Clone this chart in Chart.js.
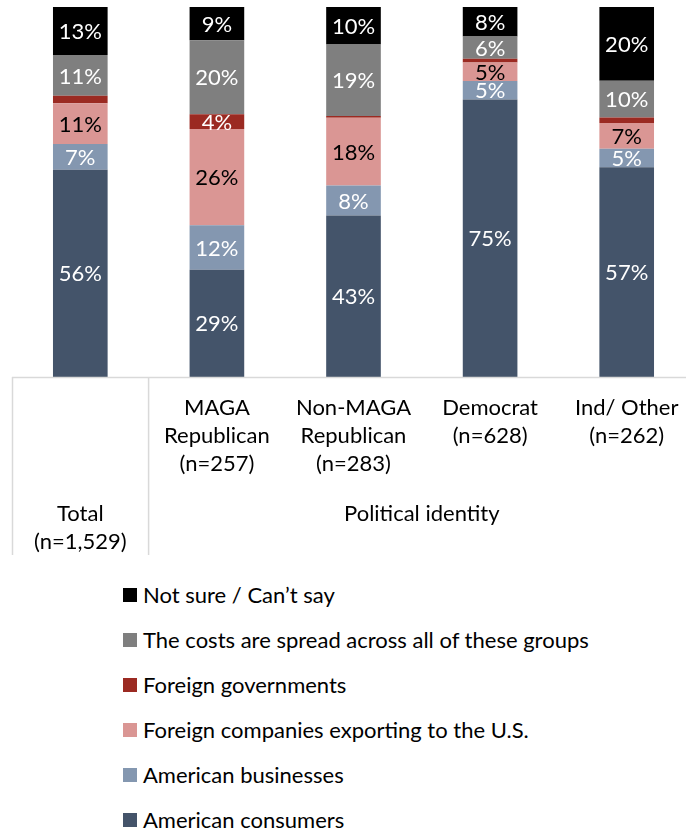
<!DOCTYPE html>
<html>
<head>
<meta charset="utf-8">
<script src="https://cdn.jsdelivr.net/npm/chart.js@4.4.1/dist/chart.umd.min.js"></script>
<style>
  html, body { margin: 0; padding: 0; background: #fff; overflow: hidden; }
  body { width: 686px; height: 828px; position: relative; font-family: Lato, "Open Sans", sans-serif; }
  #wrap { position: absolute; left: 0; top: 0; width: 700px; height: 560px; }
  #legend { position: absolute; left: 123px; top: 572px; }
  .item { height: 45px; display: flex; align-items: center; font-size: 22px; color: #000; }
  .box { width: 14px; height: 14px; margin-right: 6px; flex: none; }
</style>
</head>
<body>
<div id="wrap"><canvas id="chart" width="700" height="560"></canvas></div>
<div id="legend"></div>

<script>
// kategori (baris teks per label)
const categories = [
  ['Total', '(n=1,529)'],
  ['MAGA', 'Republican', '(n=257)'],
  ['Non-MAGA', 'Republican', '(n=283)'],
  ['Democrat', '(n=628)'],
  ['Ind/ Other', '(n=262)']
];
const groupLabel = 'Political identity';

// nilai persen per seri (urutan kolom sama dengan categories)
const consumers   = [56, 29, 43, 75, 57];
const businesses  = [7, 12, 8, 5, 5];
const foreignCos  = [11, 26, 18, 5, 7];
const foreignGovs = [2, 4, 0.5, 1, 1.5];
const spread      = [11, 20, 19, 6, 10];
const notSure     = [13, 9, 10, 8, 20];

const seriesNames = [
  'American consumers',
  'American businesses',
  'Foreign companies exporting to the U.S.',
  'Foreign governments',
  'The costs are spread across all of these groups',
  'Not sure / Can\u2019t say'
];
const seriesColors = ['#44546A', '#8497B0', '#DA9694', '#9B2A22', '#7F7F7F', '#000000'];
const labelColors  = ['#fff', '#fff', '#000', '#fff', '#fff', '#fff'];

const series = [consumers, businesses, foreignCos, foreignGovs, spread, notSure];

// 100% stacked: tiap kolom dinormalisasi ke 100
const totals = categories.map((c, i) => series.reduce((s, arr) => s + arr[i], 0));

const datasets = series.map((arr, k) => ({
  label: seriesNames[k],
  data: arr.map((v, i) => v / totals[i] * 100),
  raw: arr,
  backgroundColor: seriesColors[k],
  borderWidth: 0,
  barPercentage: 0.4,
  categoryPercentage: 1
}));

const FONT = '22px Lato, "Open Sans", sans-serif';

// label angka di tengah segmen
const valueLabels = {
  id: 'valueLabels',
  afterDatasetsDraw(chart) {
    const ctx = chart.ctx;
    ctx.save();
    ctx.font = FONT;
    ctx.textAlign = 'center';
    ctx.textBaseline = 'middle';
    chart.data.datasets.forEach((ds, k) => {
      chart.getDatasetMeta(k).data.forEach((bar, i) => {
        const v = ds.raw[i];
        if (v < 3) return;
        ctx.fillStyle = labelColors[k];
        ctx.fillText(Math.round(v) + '%', bar.x, (bar.y + bar.base) / 2 + 1);
      });
    });
    ctx.restore();
  }
};

// tabel sumbu x di bawah grafik
const axisTable = {
  id: 'axisTable',
  afterDraw(chart) {
    const ctx = chart.ctx;
    const area = chart.chartArea;
    const x = chart.scales.x;
    const top = area.bottom;
    const step = x.getPixelForValue(1) - x.getPixelForValue(0);
    const divider = x.getPixelForValue(0) + step / 2;
    ctx.save();
    ctx.strokeStyle = '#D9D9D9';
    ctx.lineWidth = 1.5;
    ctx.beginPath();
    ctx.moveTo(area.left, top + 0.5);
    ctx.lineTo(chart.width, top + 0.5);
    ctx.moveTo(area.left + 0.5, top);
    ctx.lineTo(area.left + 0.5, top + 178);
    ctx.moveTo(divider, top);
    ctx.lineTo(divider, top + 178);
    ctx.stroke();

    ctx.font = FONT;
    ctx.fillStyle = '#000';
    ctx.textAlign = 'center';
    ctx.textBaseline = 'middle';
    categories.forEach((lines, i) => {
      const cx = x.getPixelForValue(i);
      const start = i === 0 ? top + 137 : top + 31;
      lines.forEach((t, j) => ctx.fillText(t, cx, start + j * 28));
    });
    const gx = (x.getPixelForValue(1) + x.getPixelForValue(categories.length - 1)) / 2;
    ctx.fillText(groupLabel, gx, top + 137);
    ctx.restore();
  }
};

new Chart(document.getElementById('chart'), {
  type: 'bar',
  data: { labels: categories.map(c => c.join(' ')), datasets: datasets },
  options: {
    responsive: false,
    animation: false,
    layout: { padding: { top: 7, bottom: 183, left: 12, right: 5 } },
    scales: {
      x: { stacked: true, display: false },
      y: { stacked: true, display: false, min: 0, max: 100 }
    },
    plugins: { legend: { display: false }, tooltip: { enabled: false } }
  },
  plugins: [valueLabels, axisTable]
});

// legenda (urutan terbalik, seperti di gambar)
const legend = document.getElementById('legend');
for (let k = seriesNames.length - 1; k >= 0; k--) {
  const item = document.createElement('div');
  item.className = 'item';
  item.innerHTML = '<span class="box" style="background:' + seriesColors[k] + '"></span>' + seriesNames[k];
  legend.appendChild(item);
}
</script>
</body>
</html>
